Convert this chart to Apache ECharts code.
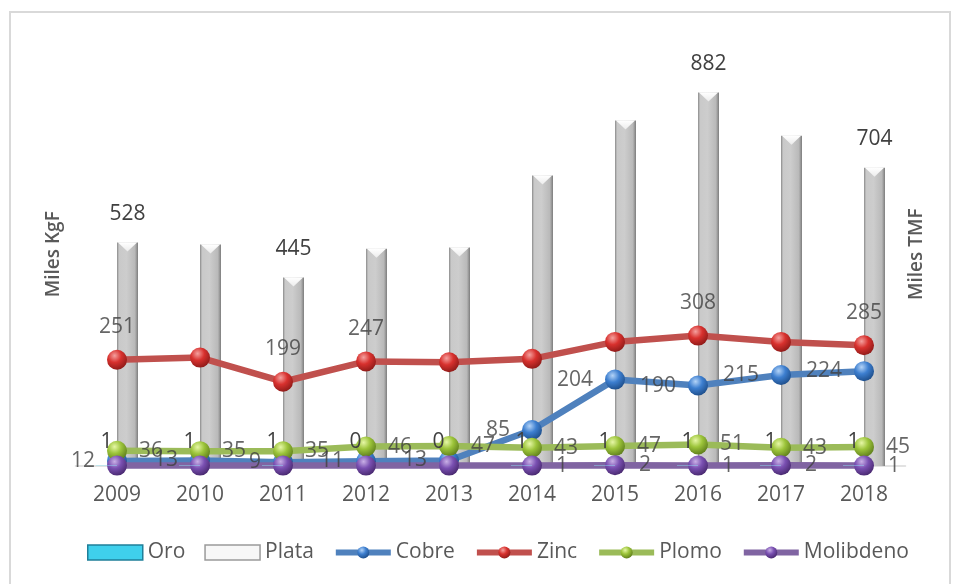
<!DOCTYPE html>
<html>
<head>
<meta charset="utf-8">
<script src="https://cdn.jsdelivr.net/npm/echarts@6/dist/echarts.min.js"></script>
<style>
  html, body { margin: 0; padding: 0; background: #ffffff; }
  #chart { position: absolute; left: 0; top: 0; width: 958px; height: 584px; }
  #frame { position: absolute; left: 9px; top: 11px; width: 938px; height: 600px;
           border: 2px solid #d9d9d9; pointer-events: none; }
</style>
</head>
<body>
<div id="chart"></div>
<div id="frame"></div>
<script>
// Production by year (gold and silver in thousand kg fine, base metals in thousand TMF)
const years = ['2009', '2010', '2011', '2012', '2013', '2014', '2015', '2016', '2017', '2018'];
const oro = [1, 1, 1, 0, 0, 1, 1, 1, 1, 1];
const plata = [528, 523, 445, 513, 516, 686, 816, 882, 780, 704];
const cobre = [12, 13, 9, 11, 13, 85, 204, 190, 215, 224];
const zinc = [251, 256, 199, 247, 245, 253, 293, 308, 293, 285];
const plomo = [36, 35, 35, 46, 47, 43, 47, 51, 43, 45];
const molibdeno = [1, 1, 1, 1, 1, 1, 2, 1, 2, 1];

// Which data labels are printed
const plataLabelled = [true, false, true, false, false, false, false, true, false, true];
const zincLabelled = [true, false, true, true, false, false, false, true, false, true];
const molibdenoLabelled = [false, false, false, false, false, true, true, true, true, true];
const allLabelled = years.map(() => true);

const FONT = 'Open Sans';
const LABEL_COLOR = '#404040';
const TEXT_COLOR = '#595959';

function sphere(light, base, dark) {
  return new echarts.graphic.RadialGradient(0.38, 0.3, 0.75, [
    { offset: 0, color: light },
    { offset: 0.45, color: base },
    { offset: 1, color: dark }
  ]);
}

function withLabels(values, flags) {
  return values.map((v, i) => ({ value: v, label: { show: flags[i] } }));
}

const labelBase = { fontFamily: FONT, fontSize: 21, color: LABEL_COLOR };

function lineSeries(name, values, lineColor, ball, z) {
  return {
    name: name,
    type: 'line',
    yAxisIndex: 1,
    data: values,
    z: z,
    symbol: 'circle',
    symbolSize: 20,
    showAllSymbol: true,
    lineStyle: { color: lineColor, width: 6.5 },
    itemStyle: { color: ball, borderWidth: 0 },
    label: { show: false }
  };
}

// Value labels of the line series, kept on top of every line and marker
function labelLayer(values, flags, pos, dist) {
  return {
    type: 'scatter',
    yAxisIndex: 1,
    data: withLabels(values, flags),
    symbol: 'circle',
    symbolSize: 20,
    itemStyle: { color: 'rgba(0,0,0,0)' },
    z: 20,
    silent: true,
    label: Object.assign({ show: true, position: pos, distance: dist }, labelBase)
  };
}

const chart = echarts.init(document.getElementById('chart'), null, { renderer: 'canvas' });

const legendLine = (name, color, ball) => ({
  name: name,
  lineStyle: { color: color, width: 6 },
  itemStyle: { color: ball }
});

chart.setOption({
  animation: false,
  backgroundColor: '#ffffff',
  grid: { left: 75.5, right: 52.5, top: 42.5, bottom: 118 },
  legend: {
    left: 82,
    top: 537,
    itemWidth: 55,
    itemHeight: 15,
    itemGap: 19,
    textStyle: { fontFamily: FONT, fontSize: 21, color: TEXT_COLOR },
    data: [
      { name: 'Oro', icon: 'rect', itemStyle: { color: '#3fd0ec', borderColor: '#1f7f99', borderWidth: 1.5 } },
      { name: 'Plata', icon: 'rect', itemStyle: { color: '#f7f7f7', borderColor: '#9a9a9a', borderWidth: 1.5 } },
      legendLine('Cobre', '#4f81bd', sphere('#b3d3f7', '#3d7fd0', '#1c4b86')),
      legendLine('Zinc', '#c0504d', sphere('#f4a09e', '#d8312e', '#8a1917')),
      legendLine('Plomo', '#9bbb59', sphere('#e6f7a6', '#9cc43a', '#5b7a1a')),
      legendLine('Molibdeno', '#8064a2', sphere('#c9b0e6', '#7a50b2', '#45266b'))
    ]
  },
  xAxis: {
    type: 'category',
    data: years,
    axisLine: { show: true, lineStyle: { color: '#d9d9d9', width: 1.5 } },
    axisTick: { show: false },
    axisLabel: { fontFamily: FONT, fontSize: 21, color: TEXT_COLOR, margin: 19 }
  },
  yAxis: [
    {
      type: 'value', min: 0, max: 1000,
      name: 'Miles KgF', nameLocation: 'middle', nameRotate: 90, nameGap: 12,
      nameTextStyle: { fontFamily: FONT, fontSize: 19, fontWeight: 600, color: TEXT_COLOR },
      axisLine: { show: false }, axisTick: { show: false },
      axisLabel: { show: false }, splitLine: { show: false }
    },
    {
      type: 'value', min: 0, max: 1000,
      name: 'Miles TMF', nameLocation: 'middle', nameRotate: 90, nameGap: 2,
      nameTextStyle: { fontFamily: FONT, fontSize: 19, fontWeight: 600, color: TEXT_COLOR },
      axisLine: { show: false }, axisTick: { show: false },
      axisLabel: { show: false }, splitLine: { show: false }
    }
  ],
  series: [
    {
      name: 'Oro',
      type: 'bar',
      data: oro,
      barWidth: 21,
      barGap: '0%',
      z: 19,
      itemStyle: {
        color: new echarts.graphic.LinearGradient(0, 0, 0, 1, [
          { offset: 0, color: '#8fe9fb' },
          { offset: 0.5, color: '#2fc6e6' },
          { offset: 1, color: '#1a8fae' }
        ])
      },
      label: Object.assign({ show: true, position: 'top', distance: 13 }, labelBase)
    },
    {
      name: 'Plata',
      type: 'bar',
      data: withLabels(plata, plataLabelled),
      barWidth: 21,
      barGap: '0%',
      z: 2,
      itemStyle: {
        color: new echarts.graphic.LinearGradient(0, 0, 1, 0, [
          { offset: 0, color: '#8a8a8a' },
          { offset: 0.1, color: '#c9c9c9' },
          { offset: 0.45, color: '#cdcdcd' },
          { offset: 0.85, color: '#b9b9b9' },
          { offset: 1, color: '#7d7d7d' }
        ])
      },
      label: Object.assign({ position: 'top', distance: 18 }, labelBase)
    },
    {
      // bevel highlight on the top of each silver column
      name: 'PlataTop',
      type: 'pictorialBar',
      data: plata,
      symbol: 'path://M0,0 L20,0 L10,9 Z',
      symbolSize: [19, 9],
      symbolPosition: 'end',
      symbolOffset: [10.5, 0],
      z: 3,
      silent: true,
      itemStyle: {
        color: new echarts.graphic.LinearGradient(0, 0, 0, 1, [
          { offset: 0, color: '#ffffff' },
          { offset: 1, color: '#ececec' }
        ])
      },
      label: { show: false }
    },
    lineSeries('Cobre', cobre, '#4f81bd', sphere('#b3d3f7', '#3d7fd0', '#1c4b86'), 4),
    lineSeries('Zinc', zinc, '#c0504d', sphere('#f4a09e', '#d8312e', '#8a1917'), 5),
    lineSeries('Plomo', plomo, '#9bbb59', sphere('#e6f7a6', '#9cc43a', '#5b7a1a'), 6),
    lineSeries('Molibdeno', molibdeno, '#8064a2', sphere('#c9b0e6', '#7a50b2', '#45266b'), 7),
    labelLayer(cobre, allLabelled, 'left', 12),
    labelLayer(zinc, zincLabelled, 'top', 12),
    labelLayer(plomo, allLabelled, 'right', 12),
    labelLayer(molibdeno, molibdenoLabelled, 'right', 14)
  ]
});
</script>
</body>
</html>
